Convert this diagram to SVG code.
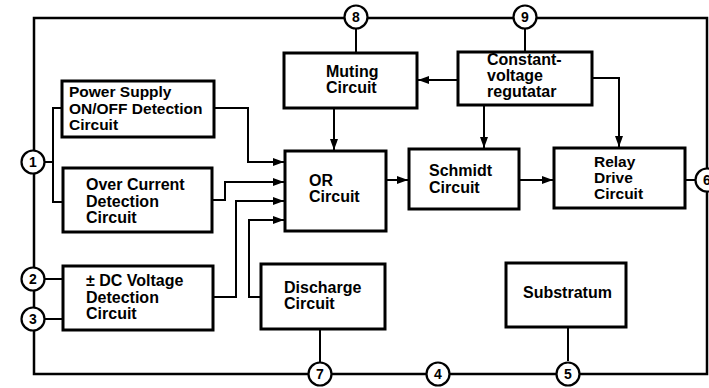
<svg xmlns="http://www.w3.org/2000/svg" width="709" height="388" viewBox="0 0 709 388">
<style>
.box{fill:#fff;stroke:#000;stroke-width:3}
.pin{fill:#fff;stroke:#000;stroke-width:2.2}
.ln{fill:none;stroke:#000;stroke-width:2}
.frame{fill:none;stroke:#000;stroke-width:2.5}
text{font-family:"Liberation Sans",Arial,Helvetica,sans-serif;font-weight:bold;font-size:16px;fill:#000}
.tight{font-size:15.5px}
.num{font-size:14px;text-anchor:middle}
</style>
<defs>
<marker id="ah" markerUnits="userSpaceOnUse" markerWidth="12" markerHeight="10" refX="11" refY="5" orient="auto">
<path d="M0,1 L11,5 L0,9 Z" fill="#000"/>
</marker>
</defs>
<rect width="709" height="388" fill="#fff"/>
<g id="connectors">
<path class="frame" d="M34,18 H707 V374 H34 Z"/>
<path class="ln" d="M62,108 H53 V202 H63 M44,162 H53"/>
<path class="ln" d="M44,279 H63 M44,319 H63"/>
<path class="ln" d="M214,108 H248 V162 H284" marker-end="url(#ah)"/>
<path class="ln" d="M212,200 H225 V182 H284" marker-end="url(#ah)"/>
<path class="ln" d="M213,297 H236 V201 H284" marker-end="url(#ah)"/>
<path class="ln" d="M261,297 H249 V220 H284" marker-end="url(#ah)"/>
<path class="ln" d="M356,28 V53 M525,29 V52"/>
<path class="ln" d="M458,80 H418" marker-end="url(#ah)"/>
<path class="ln" d="M334,108 V150" marker-end="url(#ah)"/>
<path class="ln" d="M484,105 V148" marker-end="url(#ah)"/>
<path class="ln" d="M592,78 H619 V147" marker-end="url(#ah)"/>
<path class="ln" d="M386,180 H408" marker-end="url(#ah)"/>
<path class="ln" d="M519,180 H553" marker-end="url(#ah)"/>
<path class="ln" d="M685,180 H697"/>
<path class="ln" d="M320,329 V363 M568,327 V361"/>
</g>
<g id="power-supply">
<rect class="box" x="62" y="81" width="152" height="56"/>
<text class="tight" x="69" y="97">Power Supply</text>
<text class="tight" x="69" y="114">ON/OFF Detection</text>
<text class="tight" x="69" y="130">Circuit</text>
</g>
<g id="over-current">
<rect class="box" x="63" y="168" width="149" height="64"/>
<text x="86" y="190">Over Current</text>
<text x="86" y="207">Detection</text>
<text x="86" y="223">Circuit</text>
</g>
<g id="dc-voltage">
<rect class="box" x="63" y="266" width="150" height="64"/>
<text x="86" y="286">± DC Voltage</text>
<text x="86" y="303">Detection</text>
<text x="86" y="319">Circuit</text>
</g>
<g id="muting">
<rect class="box" x="284" y="53" width="133" height="55"/>
<text x="326" y="77">Muting</text>
<text x="326" y="93">Circuit</text>
</g>
<g id="constant-voltage">
<rect class="box" x="458" y="52" width="134" height="53"/>
<text x="487" y="65">Constant-</text>
<text x="487" y="81">voltage</text>
<text x="487" y="97">regutatar</text>
</g>
<g id="or">
<rect class="box" x="285" y="151" width="101" height="80"/>
<text x="309" y="186">OR</text>
<text x="309" y="202">Circuit</text>
</g>
<g id="schmidt">
<rect class="box" x="409" y="149" width="110" height="60"/>
<text x="429" y="176">Schmidt</text>
<text x="429" y="193">Circuit</text>
</g>
<g id="relay">
<rect class="box" x="554" y="148" width="131" height="60"/>
<text class="tight" x="594" y="167">Relay</text>
<text class="tight" x="594" y="183">Drive</text>
<text class="tight" x="594" y="199">Circuit</text>
</g>
<g id="discharge">
<rect class="box" x="261" y="264" width="124" height="65"/>
<text x="284" y="293">Discharge</text>
<text x="284" y="309">Circuit</text>
</g>
<g id="substratum">
<rect class="box" x="506" y="263" width="120" height="64"/>
<text x="523" y="298">Substratum</text>
</g>
<g id="pin1"><circle class="pin" cx="33" cy="162" r="11.5"/><text class="num" x="33" y="167">1</text></g>
<g id="pin2"><circle class="pin" cx="33" cy="279" r="11.5"/><text class="num" x="33" y="284">2</text></g>
<g id="pin3"><circle class="pin" cx="33" cy="319" r="11.5"/><text class="num" x="33" y="324">3</text></g>
<g id="pin4"><circle class="pin" cx="438" cy="374" r="11.5"/><text class="num" x="438" y="379">4</text></g>
<g id="pin5"><circle class="pin" cx="568" cy="374" r="11.5"/><text class="num" x="568" y="379">5</text></g>
<g id="pin6"><circle class="pin" cx="707" cy="180" r="11.5"/><text class="num" x="707" y="185">6</text></g>
<g id="pin7"><circle class="pin" cx="320" cy="374" r="11.5"/><text class="num" x="320" y="379">7</text></g>
<g id="pin8"><circle class="pin" cx="356" cy="17" r="11.5"/><text class="num" x="356" y="22">8</text></g>
<g id="pin9"><circle class="pin" cx="525" cy="17" r="11.5"/><text class="num" x="525" y="22">9</text></g>
</svg>
